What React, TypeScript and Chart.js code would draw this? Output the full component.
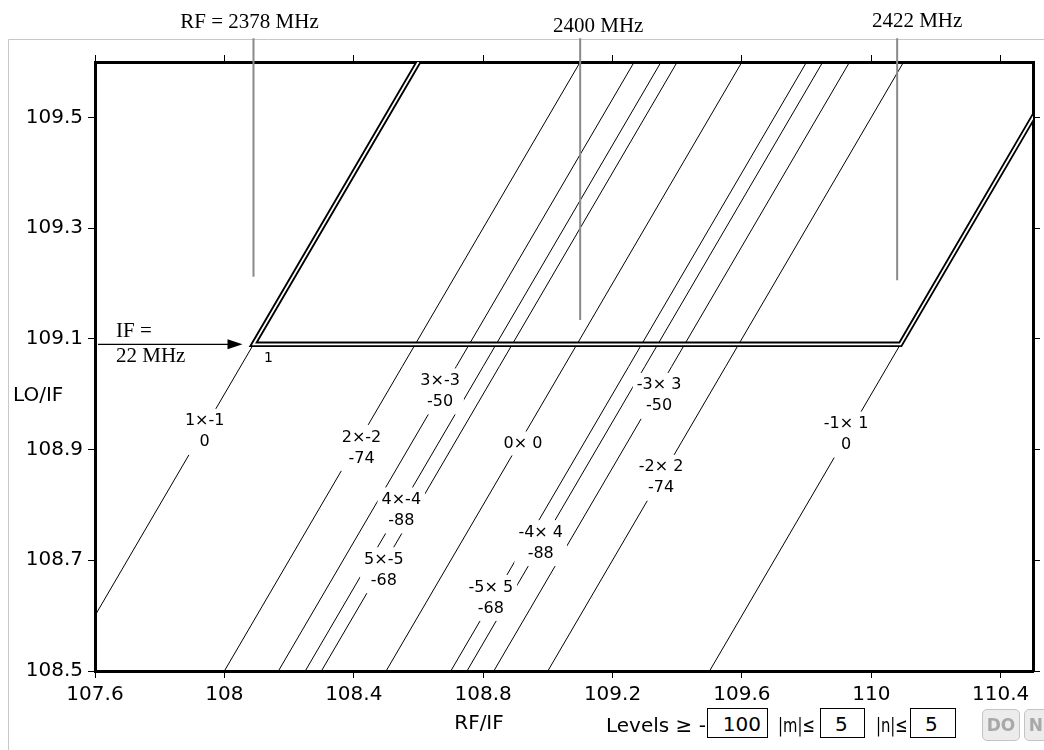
import React, { useEffect, useRef } from "react";
import { Chart, registerables } from "chart.js";

Chart.register(...registerables);

// ---------- data ----------
const X_MIN = 107.6;
const X_MAX = 110.5;
const Y_MIN = 108.5;
const Y_MAX = 109.6;
const xTicks = [107.6, 108, 108.4, 108.8, 109.2, 109.6, 110, 110.4];
const yTicks = [108.5, 108.7, 108.9, 109.1, 109.3, 109.5];

const spurM = [1, 2, 3, 4, 5, 0, -5, -4, -3, -2, -1];
const spurNames = ["1×-1", "2×-2", "3×-3", "4×-4", "5×-5", "0× 0", "-5× 5", "-4× 4", "-3× 3", "-2× 2", "-1× 1"];
const spurLevels = ["0", "-74", "-50", "-88", "-68", "", "-68", "-88", "-50", "-74", "0"];
// LO/IF = RF/IF + offset
const spurOffsets = [1, 0.5, 0.333, 0.25, 0.2, 0, -0.2, -0.25, -0.333, -0.5, -1];
const spurLabelX = [107.939, 108.424, 108.667, 108.547, 108.493, 108.923, 108.824, 108.978, 109.344, 109.35, 109.922];
const spurLabelY = [108.932, 108.903, 109.005, 108.79, 108.682, 108.911, 108.632, 108.731, 108.997, 108.849, 108.927];

const ifLevel = 109.09;
const ifStartX = 108.09;
const ifEndX = 110.09;
const ifText = ["IF =", "22 MHz"];
const ifMark = "1";

const markerLabels = ["RF = 2378 MHz", "2400 MHz", "2422 MHz"];
const markerX = [108.09, 109.1, 110.08];
const markerLow = [109.212, 109.134, 109.206];
const markerHigh = 109.643;

const xTitle = "RF/IF";
const yTitle = "LO/IF";

const levelMin = "100";
const mMax = "5";
const nMax = "5";

// ---------- layout / style (pixels) ----------
const markerLabelDx = [-4, 18, 20];
const markerLabelBase = [28, 32, 27];
const SANS = "'DejaVu Sans', sans-serif";
const SERIF = "'Liberation Serif', 'Times New Roman', serif";

const overlay = {
  id: "overlay",
  beforeDraw(chart: any) {
    const ctx = chart.ctx;
    ctx.save();
    ctx.fillStyle = "#fff";
    ctx.fillRect(0, 0, chart.width, chart.height);
    ctx.strokeStyle = "#c8c8c8";
    ctx.lineWidth = 1;
    ctx.beginPath();
    ctx.moveTo(8.5, chart.height);
    ctx.lineTo(8.5, 39.5);
    ctx.lineTo(chart.width, 39.5);
    ctx.stroke();
    ctx.restore();
  },
  afterDatasetsDraw(chart: any) {
    const ctx = chart.ctx;
    const x = chart.scales.x;
    const y = chart.scales.y;
    ctx.save();
    // spur labels with white knock-out boxes
    ctx.font = `16px ${SANS}`;
    ctx.textAlign = "center";
    ctx.textBaseline = "middle";
    spurNames.forEach((name, i) => {
      const px = x.getPixelForValue(spurLabelX[i]);
      const py = y.getPixelForValue(spurLabelY[i]);
      const lvl = spurLevels[i];
      const w = Math.max(ctx.measureText(name).width, lvl ? ctx.measureText(lvl).width : 0) + 8;
      const h = lvl ? 46 : 24;
      ctx.fillStyle = "#fff";
      ctx.fillRect(px - w / 2, py - h / 2, w, h);
      ctx.fillStyle = "#000";
      if (lvl) {
        ctx.fillText(name, px, py - 10.5);
        ctx.fillText(lvl, px, py + 10.5);
      } else {
        ctx.fillText(name, px, py);
      }
    });

    // "1" at start of IF line
    const sx = x.getPixelForValue(ifStartX);
    const sy = y.getPixelForValue(ifLevel);
    ctx.font = `14px ${SANS}`;
    ctx.fillText(ifMark, sx + 15, sy + 14);

    // IF arrow
    const a1 = chart.chartArea.left + 3;
    const a2 = sx - 11;
    ctx.strokeStyle = "#000";
    ctx.lineWidth = 1.2;
    ctx.beginPath();
    ctx.moveTo(a1, sy);
    ctx.lineTo(a2 - 12, sy);
    ctx.stroke();
    ctx.beginPath();
    ctx.moveTo(a2, sy);
    ctx.lineTo(a2 - 15, sy - 5);
    ctx.lineTo(a2 - 15, sy + 5);
    ctx.closePath();
    ctx.fillStyle = "#000";
    ctx.fill();
    ctx.font = `21px ${SERIF}`;
    ctx.textAlign = "left";
    ctx.textBaseline = "alphabetic";
    ctx.fillText(ifText[0], chart.chartArea.left + 21, sy - 7);
    ctx.fillText(ifText[1], chart.chartArea.left + 21, sy + 18);

    // marker labels
    ctx.textAlign = "center";
    markerLabels.forEach((t, i) => {
      ctx.fillText(t, x.getPixelForValue(markerX[i]) + markerLabelDx[i], markerLabelBase[i]);
    });

    // axis titles
    ctx.font = `20px ${SANS}`;
    ctx.textBaseline = "middle";
    ctx.textAlign = "left";
    ctx.fillText(yTitle, 13, 396);
    ctx.textAlign = "center";
    ctx.fillText(xTitle, 479, 724);
    ctx.restore();
  },
};

const lineBase = {
  showLine: true,
  pointRadius: 0,
  pointHoverRadius: 0,
  tension: 0,
  fill: false,
  borderJoinStyle: "miter",
  borderCapStyle: "butt",
};

function buildDatasets() {
  const ds: any[] = [];
  markerX.forEach((mx, i) => {
    ds.push({
      ...lineBase,
      label: markerLabels[i],
      data: [
        { x: mx, y: markerHigh },
        { x: mx, y: markerLow[i] },
      ],
      borderColor: "#8a8a8a",
      borderWidth: 2,
      clip: false,
      order: 0,
    });
  });
  const path = [
    { x: Y_MAX - spurOffsets[0], y: Y_MAX },
    { x: ifStartX, y: ifLevel },
    { x: ifEndX, y: ifLevel },
    { x: Y_MAX - spurOffsets[10], y: Y_MAX },
  ];
  ds.push({ ...lineBase, data: path, borderColor: "#fff", borderWidth: 1.8, order: 1 });
  ds.push({ ...lineBase, data: path, borderColor: "#000", borderWidth: 5.5, order: 2 });
  spurOffsets.forEach((c, i) => {
    const top = Math.abs(spurM[i]) === 1 ? ifLevel : Y_MAX;
    ds.push({
      ...lineBase,
      label: spurNames[i],
      data: [
        { x: Y_MIN - c, y: Y_MIN },
        { x: top - c, y: top },
      ],
      borderColor: "#000",
      borderWidth: 1,
      order: 3,
    });
  });
  return ds;
}

const gridOpts = {
  display: true,
  drawOnChartArea: false,
  drawTicks: true,
  tickLength: 7,
  color: "#000",
  lineWidth: 1,
};
const borderOpts = { display: true, color: "#000", width: 3 };

export default function App() {
  const ref = useRef<HTMLCanvasElement | null>(null);
  useEffect(() => {
    if (!ref.current) return;
    const chart = new Chart(ref.current, {
      type: "scatter",
      data: { datasets: buildDatasets() },
      options: {
        responsive: false,
        animation: false,
        events: [],
        layout: { padding: { top: 62, right: 11, bottom: 0, left: 0 } },
        plugins: { legend: { display: false }, tooltip: { enabled: false } },
        scales: {
          x: {
            type: "linear",
            position: "bottom",
            min: X_MIN,
            max: X_MAX,
            afterBuildTicks: (s: any) => {
              s.ticks = xTicks.map((v) => ({ value: v }));
            },
            afterFit: (s: any) => {
              s.height = 79;
            },
            ticks: {
              callback: (v: any) => String(v),
              font: { family: SANS, size: 20 },
              color: "#000",
              padding: 5,
              maxRotation: 0,
              autoSkip: false,
            },
            grid: gridOpts,
            border: borderOpts,
          },
          x2: {
            type: "linear",
            axis: "x",
            position: "top",
            min: X_MIN,
            max: X_MAX,
            afterBuildTicks: (s: any) => {
              s.ticks = xTicks.map((v) => ({ value: v }));
            },
            afterFit: (s: any) => {
              s.height = 0;
            },
            ticks: { display: false },
            grid: gridOpts,
            border: borderOpts,
          },
          y: {
            type: "linear",
            position: "left",
            min: Y_MIN,
            max: Y_MAX,
            afterBuildTicks: (s: any) => {
              s.ticks = yTicks.map((v) => ({ value: v }));
            },
            afterFit: (s: any) => {
              s.width = 95;
            },
            ticks: {
              callback: (v: any) => String(v),
              font: { family: SANS, size: 20 },
              color: "#000",
              padding: 5,
              autoSkip: false,
            },
            grid: gridOpts,
            border: borderOpts,
          },
          y2: {
            type: "linear",
            axis: "y",
            position: "right",
            min: Y_MIN,
            max: Y_MAX,
            afterBuildTicks: (s: any) => {
              s.ticks = yTicks.map((v) => ({ value: v }));
            },
            afterFit: (s: any) => {
              s.width = 0;
            },
            ticks: { display: false },
            grid: gridOpts,
            border: borderOpts,
          },
        },
      } as any,
      plugins: [overlay],
    });
    return () => chart.destroy();
  }, []);

  const ctl: React.CSSProperties = {
    position: "absolute",
    fontFamily: SANS,
    fontSize: 20,
    lineHeight: "24px",
    color: "#000",
    whiteSpace: "nowrap",
  };
  const narrow: React.CSSProperties = {
    ...ctl,
    transform: "scaleX(0.74)",
    transformOrigin: "left center",
  };
  const box: React.CSSProperties = {
    position: "absolute",
    border: "1.5px solid #000",
    boxSizing: "border-box",
    fontFamily: SANS,
    fontSize: 20,
    lineHeight: "26px",
    textAlign: "right",
    paddingRight: 6,
    paddingTop: 2,
    color: "#000",
    background: "#fff",
  };
  const btn: React.CSSProperties = {
    position: "absolute",
    top: 709,
    height: 32,
    width: 38,
    boxSizing: "border-box",
    border: "1px solid #c4c4c4",
    borderRadius: 5,
    background: "#ececec",
    color: "#a8a8a8",
    fontFamily: SANS,
    fontWeight: "bold",
    fontSize: 17,
    lineHeight: "30px",
    textAlign: "center",
  };

  return (
    <div
      style={{
        position: "absolute",
        left: 0,
        top: 0,
        width: 1044,
        height: 750,
        overflow: "hidden",
        background: "#fff",
      }}
    >
      <canvas ref={ref} width={1044} height={750} style={{ display: "block" }} />
      <div style={{ ...ctl, left: 606, top: 713 }}>Levels ≥ -</div>
      <div style={{ ...box, left: 707, top: 708, width: 61, height: 30 }}>{levelMin}</div>
      <div style={{ ...narrow, left: 778, top: 713 }}>|m|≤</div>
      <div style={{ ...box, left: 820, top: 708, width: 45, height: 30, textAlign: "left", paddingLeft: 14 }}>{mMax}</div>
      <div style={{ ...narrow, left: 876, top: 713 }}>|n|≤</div>
      <div style={{ ...box, left: 910, top: 708, width: 46, height: 30, textAlign: "left", paddingLeft: 14 }}>{nMax}</div>
      <div style={{ ...btn, left: 982 }}>DO</div>
      <div style={{ ...btn, left: 1024 }}>NO</div>
    </div>
  );
}
